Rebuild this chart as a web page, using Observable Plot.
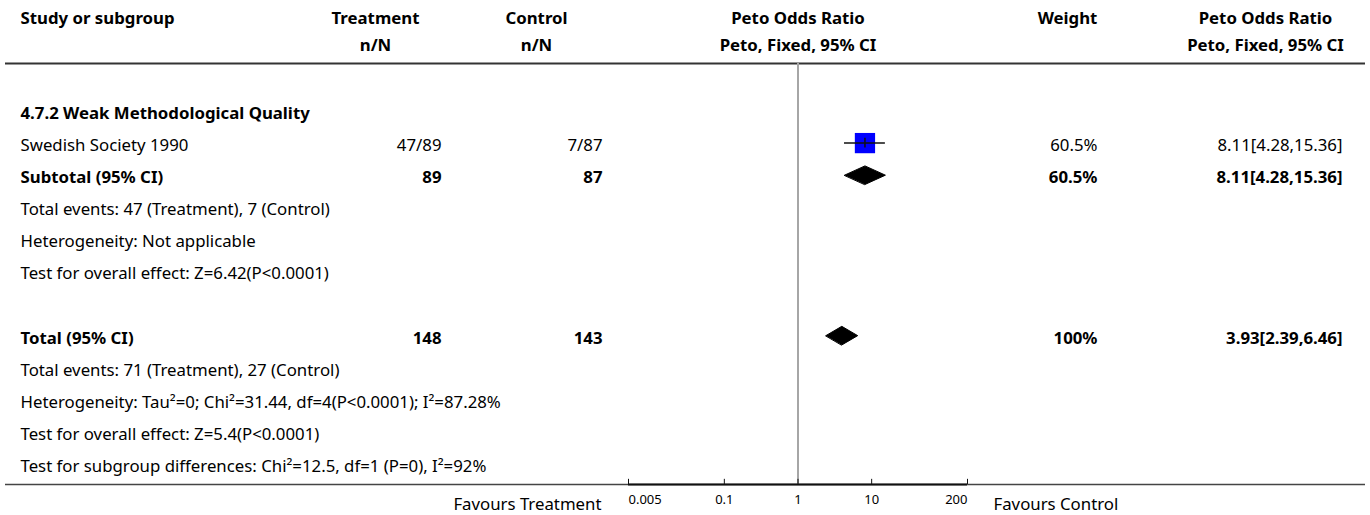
<!DOCTYPE html>
<html>
<head>
<meta charset="utf-8">
<script src="https://cdn.jsdelivr.net/npm/d3@7"></script>
<script src="https://cdn.jsdelivr.net/npm/@observablehq/plot@0.6"></script>
<style>
  html, body { margin: 0; padding: 0; background: #fff; }
  #chart { position: relative; width: 1370px; height: 515px; }
  #bg { position: absolute; left: 0; top: 0; }
  #cols { position: absolute; left: 0; top: 0; display: flex; }
  svg { display: block; }
</style>
</head>
<body>
<div id="chart"><div id="bg"></div><div id="cols"></div></div>
<script>
// ---------------- data ----------------
const headerLine1 = ["Study or subgroup", "Treatment", "Control", "Peto Odds Ratio", "Weight", "Peto Odds Ratio"];
const headerLine2 = ["", "n/N", "n/N", "Peto, Fixed, 95% CI", "", "Peto, Fixed, 95% CI"];
const rowLabels = [
  "4.7.2 Weak Methodological Quality",
  "Swedish Society 1990",
  "Subtotal (95% CI)",
  "Total events: 47 (Treatment), 7 (Control)",
  "Heterogeneity: Not applicable",
  "Test for overall effect: Z=6.42(P<0.0001)",
  "",
  "Total (95% CI)",
  "Total events: 71 (Treatment), 27 (Control)",
  "Heterogeneity: Tau\u00B2=0; Chi\u00B2=31.44, df=4(P<0.0001); I\u00B2=87.28%",
  "Test for overall effect: Z=5.4(P<0.0001)",
  "Test for subgroup differences: Chi\u00B2=12.5, df=1 (P=0), I\u00B2=92%"
];
const boldRows = [0, 2, 7];
const treatmentCol = ["", "47/89", "89", "", "", "", "", "148", "", "", "", ""];
const controlCol   = ["", "7/87", "87", "", "", "", "", "143", "", "", "", ""];
const weightCol    = ["", "60.5%", "60.5%", "", "", "", "", "100%", "", "", "", ""];
const ciCol        = ["", "8.11[4.28,15.36]", "8.11[4.28,15.36]", "", "", "", "", "3.93[2.39,6.46]", "", "", "", ""];
const studyRows    = [1];
const studyOR      = [8.11];
const studyLo      = [4.28];
const studyHi      = [15.36];
const studyWeight  = [60.5];
const pooledRows   = [2, 7];
const pooledOR     = [8.11, 3.93];
const pooledLo     = [4.28, 2.39];
const pooledHi     = [15.36, 6.46];
const axisTicks    = [0.005, 0.1, 1, 10, 200];
const favoursLeft  = "Favours Treatment";
const favoursRight = "Favours Control";

// ---------------- layout ----------------
const H = 515;
const font = "'Noto Sans', sans-serif";
const FS = 16.8;
const Y = {type: "linear", domain: [0, 11], range: [113, 466], axis: null};
const hdrA = -2.96, hdrB = -2.12, topRuleRow = -1.56, axisRow = 11.56, tickLabelRow = 12.05, favRow = 12.18;
const markDy = -2.5;

const rows = rowLabels.map((label, i) => ({
  i, label, bold: boldRows.includes(i),
  treatment: treatmentCol[i], control: controlCol[i], weight: weightCol[i], ci: ciCol[i]
}));
const studies = studyRows.map((row, k) => ({row, or: studyOR[k], lo: studyLo[k], hi: studyHi[k], weight: studyWeight[k]}));
const pooled = pooledRows.map((row, k) => ({row, or: pooledOR[k], lo: pooledLo[k], hi: pooledHi[k]}));
const dh = 0.29;
const diamondPts = pooled.flatMap(d => [
  {row: d.row, x: d.lo, y: d.row},
  {row: d.row, x: d.or, y: d.row - dh},
  {row: d.row, x: d.hi, y: d.row},
  {row: d.row, x: d.or, y: d.row + dh}
]);
const tickObjs = axisTicks.map((v, k) => ({v, anchor: k === 0 ? "start" : k === axisTicks.length - 1 ? "end" : "middle"}));

const baseStyle = {fontFamily: font, background: "transparent", overflow: "visible", color: "#000"};

function headerMarks(col, xCenter, anchor) {
  const h = [{row: hdrA, text: headerLine1[col]}, {row: hdrB, text: headerLine2[col]}].filter(d => d.text);
  return Plot.text(h, {x: () => xCenter, y: "row", text: "text", textAnchor: anchor, fontWeight: "bold", fontSize: FS, fill: "#000"});
}

function textColumn({width, ml, mr, col, key, align}) {
  const start = align === "start";
  const data = rows.filter(r => r[key]);
  return Plot.plot({
    width, height: H, marginLeft: ml, marginRight: mr, marginTop: 0, marginBottom: 0,
    x: {domain: [0, 1], axis: null}, y: Y, style: baseStyle,
    marks: [
      headerMarks(col, start ? 0 : 0.5, start ? "start" : "middle"),
      Plot.text(data.filter(r => !r.bold), {x: () => start ? 0 : 1, y: "i", text: key, textAnchor: start ? "start" : "end", fontSize: FS, fill: "#000"}),
      Plot.text(data.filter(r => r.bold), {x: () => start ? 0 : 1, y: "i", text: key, textAnchor: start ? "start" : "end", fontWeight: "bold", fontSize: FS, fill: "#000"})
    ]
  });
}

// background full-width rules
const bg = Plot.plot({
  width: 1370, height: H, marginLeft: 5, marginRight: 5, marginTop: 0, marginBottom: 0,
  x: {domain: [0, 1], axis: null}, y: Y, style: baseStyle,
  marks: [
    Plot.ruleY([topRuleRow], {stroke: "#333", strokeWidth: 2}),
    Plot.ruleY([axisRow], {stroke: "#444", strokeWidth: 1.5})
  ]
});
document.getElementById("bg").appendChild(bg);

const forest = Plot.plot({
  width: 365, height: H, marginLeft: 13, marginRight: 13, marginTop: 0, marginBottom: 0,
  x: {type: "log", domain: [0.005, 200], axis: null}, y: Y,
  r: {type: "sqrt", domain: [0, 100], range: [0, 14.7]},
  style: baseStyle,
  marks: [
    headerMarks(3, 1, "middle"),
    Plot.ruleX([1], {y1: topRuleRow, y2: axisRow, stroke: "#a6a6a6", strokeWidth: 2}),
    Plot.ruleY([axisRow], {stroke: "#111", strokeWidth: 2}),
    Plot.ruleX(axisTicks, {x: d => d, y1: axisRow, y2: axisRow - 0.16, stroke: "#111", strokeWidth: 1}),
    ...["start", "middle", "end"].map(a =>
      Plot.text(tickObjs.filter(t => t.anchor === a), {x: "v", y: () => tickLabelRow, text: t => String(t.v), textAnchor: a, fontSize: 13, fill: "#000"})),
    Plot.dot(studies, {x: "or", y: "row", r: "weight", symbol: "square", fill: "#0000ff", stroke: null, dy: markDy}),
    Plot.ruleY(studies, {y: "row", x1: "lo", x2: "hi", stroke: "#111", strokeWidth: 1.5, dy: markDy}),
    Plot.ruleX(studies, {x: "or", y1: d => d.row - 0.15, y2: d => d.row + 0.15, stroke: "#111", strokeWidth: 1.5, dy: markDy}),
    Plot.line(diamondPts, {x: "x", y: "y", z: "row", curve: "linear-closed", fill: "#000", stroke: "#000", strokeWidth: 1, dy: markDy}),
    Plot.text([favoursLeft], {x: () => 0.005, y: () => favRow, text: d => d, textAnchor: "end", dx: -27, fontSize: FS, fill: "#000"}),
    Plot.text([favoursRight], {x: () => 200, y: () => favRow, text: d => d, textAnchor: "start", dx: 26, fontSize: FS, fill: "#000"})
  ]
});

const cols = document.getElementById("cols");
cols.appendChild(textColumn({width: 300, ml: 20, mr: 0, col: 0, key: "label", align: "start"}));
cols.appendChild(textColumn({width: 150, ml: 9, mr: 9, col: 1, key: "treatment", align: "end"}));
cols.appendChild(textColumn({width: 165, ml: 20, mr: 13, col: 2, key: "control", align: "end"}));
cols.appendChild(forest);
cols.appendChild(textColumn({width: 130, ml: 57, mr: 13, col: 4, key: "weight", align: "end"}));
cols.appendChild(textColumn({width: 260, ml: 78, mr: 28, col: 5, key: "ci", align: "end"}));
</script>
</body>
</html>
